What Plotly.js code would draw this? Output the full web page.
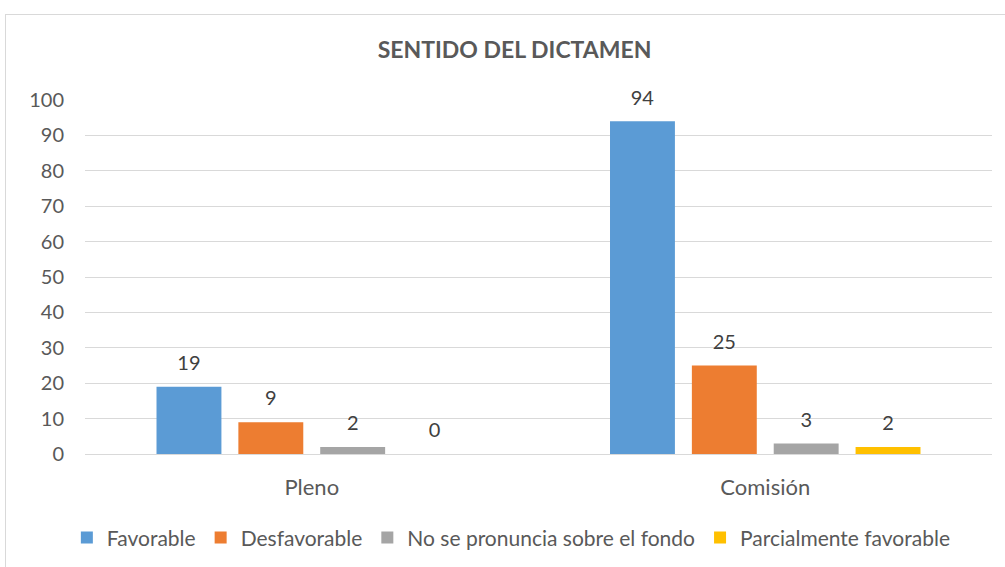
<!DOCTYPE html>
<html><head><meta charset="utf-8">
<script src="https://cdn.plot.ly/plotly-3.0.1.min.js"></script>
<style>
html,body{margin:0;padding:0;background:#fff;overflow:hidden;}
#frame{position:absolute;left:5px;top:14px;width:1020px;height:570px;border:1px solid #d9d9d9;pointer-events:none;}
#chart{position:absolute;left:0;top:0;width:1005px;height:567px;}
</style></head>
<body>
<div id="chart"></div>
<div id="frame"></div>
<script>
const categories = ["Pleno", "Comisión"];
const seriesNames = ["Favorable", "Desfavorable", "No se pronuncia sobre el fondo", "Parcialmente favorable"];
const favorable = [19, 94];
const desfavorable = [9, 25];
const noSePronuncia = [2, 3];
const parcialmente = [0, 2];
const colors = ["#5B9BD5", "#ED7D31", "#A5A5A5", "#FFC000"];
const yTicks = [0,10,20,30,40,50,60,70,80,90,100];

const values = [favorable, desfavorable, noSePronuncia, parcialmente];
const font = "Lato, 'Open Sans', sans-serif";
const traces = values.map((v, i) => ({
  type: "bar",
  name: seriesNames[i],
  x: categories,
  y: v,
  marker: {color: colors[i]},
  text: v.map(String),
  texttemplate: "<span style='font-size:20px'>%{text}</span><br> ",
  textposition: "outside",
  constraintext: "none",
  cliponaxis: false,
  textfont: {family: font, size: 9, color: "#404040"},
  hoverinfo: "none"
}));

const layout = {
  width: 1005, height: 567,
  margin: {l: 85, r: 13, t: 100, b: 113, autoexpand: false},
  paper_bgcolor: "#fff", plot_bgcolor: "#fff",
  font: {family: font, color: "#595959", size: 20},
  title: {text: "<b>SENTIDO DEL DICTAMEN</b>", x: 0.512, xanchor: "center", y: 0.912, yanchor: "middle",
          font: {family: font, size: 23, color: "#595959"}},
  barmode: "group",
  bargap: 0.278,
  bargroupgap: 0.207,
  xaxis: {type: "category", tickfont: {size: 22, color: "#595959"}, ticklabelstandoff: 18,
          showgrid: false, showline: false, ticks: "", automargin: false},
  yaxis: {range: [0, 100], tickvals: yTicks, ticktext: yTicks.map(String),
          tickfont: {size: 20, color: "#595959"}, ticklabelstandoff: 20, automargin: false,
          gridcolor: "#d9d9d9", gridwidth: 1, zeroline: true, zerolinecolor: "#d9d9d9", zerolinewidth: 1,
          showline: false, ticks: ""},
  showlegend: true,
  legend: {orientation: "h", x: -0.02, xanchor: "left", y: -0.237, yanchor: "middle",
           font: {size: 21, color: "#595959"}, itemwidth: 30, traceorder: "normal", tracegroupgap: 0},
};
Plotly.newPlot("chart", traces, layout, {staticPlot: true});
</script>
</body></html>
